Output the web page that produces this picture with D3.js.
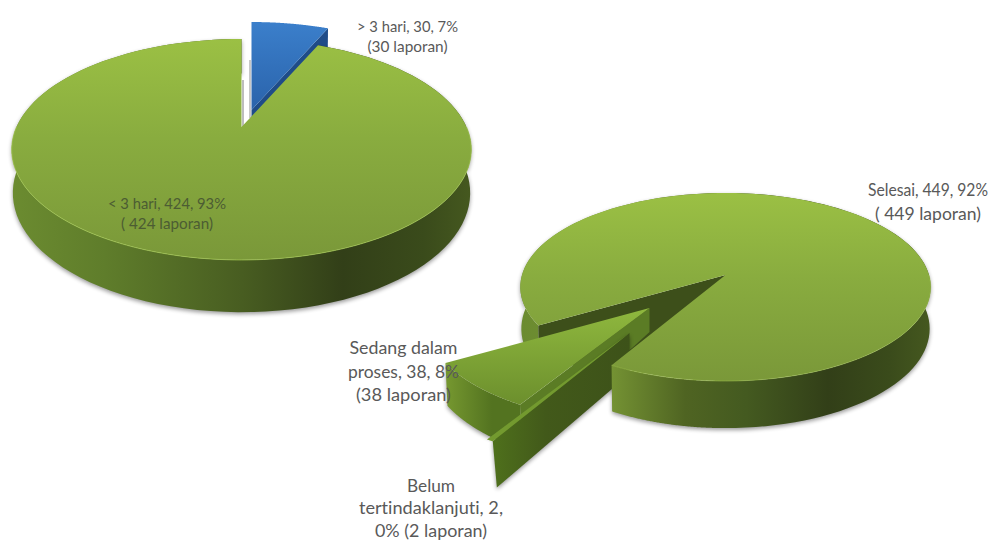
<!DOCTYPE html>
<html>
<head>
<meta charset="utf-8">
<style>
  html, body { margin: 0; padding: 0; background: #fff; }
  svg { display: block; }
  text { font-family: Lato, "Open Sans", sans-serif; fill: #595959; font-variant-ligatures: none; }
</style>
<script src="https://cdnjs.cloudflare.com/ajax/libs/d3/7.8.5/d3.min.js"></script>
</head>
<body>
<script>
// Response-time split
const timeCategories = ["> 3 hari", "< 3 hari"];
const timeValues = [30, 424];

// Follow-up status split
const statusCategories = ["Selesai", "Belum tertindaklanjuti", "Sedang dalam proses"];
const statusValues = [449, 2, 38];

// Label lines for both pies, each with the width it should occupy
const timeLabels = [
  { lines: ["> 3 hari, 30, 7%", "(30 laporan)"], widths: [101, 80], x: 407.5, y: 32, size: 15, dy: 19.5, fill: "#595959" },
  { lines: ["< 3 hari, 424, 93%", "( 424 laporan)"], widths: [118, 92], x: 167, y: 209, size: 15, dy: 20, fill: "#4c5c33" }
];
const statusLabels = [
  { lines: ["Selesai, 449, 92%", "( 449 laporan)"], widths: [120, 106], x: 928, y: 196, size: 17.5, dy: 24, fill: "#595959" },
  { lines: ["Sedang dalam", "proses, 38, 8%", "(38 laporan)"], widths: [108, 111, 95], x: 403.5, y: 354, size: 17.5, dy: 23.5, fill: "#595959" },
  { lines: ["Belum", "tertindaklanjuti, 2,", "0% (2 laporan)"], widths: [48, 144, 112], x: 431, y: 491.5, size: 17, dy: 22.5, fill: "#595959" }
];

const width = 1003, height = 540, TAU = Math.PI * 2;
const svg = d3.select("body").append("svg").attr("width", width).attr("height", height);
const defs = svg.append("defs");

// Perspective settings of the two discs: apex position, radii, tilt, thickness
const leftDisc = { cx: 241.5, cy: 127, R: 225, S: 105.9, k: 0.2036, D: 41.6, shrink: 0.005 };
const rightDisc = { cx: 725.5, cy: 275, R: 203.5, S: 92.5, k: 0.128, D: 41, shrink: 0.005 };

function vGradient(id, stops) {
  const g = defs.append("linearGradient").attr("id", id)
    .attr("x1", 0).attr("y1", 0).attr("x2", 0).attr("y2", 1);
  stops.forEach(([o, c]) => g.append("stop").attr("offset", o).attr("stop-color", c));
}
function hGradient(id, x1, x2, stops) {
  const g = defs.append("linearGradient").attr("id", id).attr("gradientUnits", "userSpaceOnUse")
    .attr("x1", x1).attr("y1", 0).attr("x2", x2).attr("y2", 0);
  stops.forEach(([o, c]) => g.append("stop").attr("offset", o).attr("stop-color", c));
}
hGradient("rimLeft", 14, 470, [[0, "#6b8b30"], [0.2, "#5f7d2b"], [0.5, "#485d21"], [0.72, "#323f18"], [0.9, "#3a4b1b"], [1, "#45581f"]]);
hGradient("rimRight", 522, 930, [[0, "#6b8b30"], [0.22, "#749233"], [0.4, "#4f6422"], [0.55, "#445a20"], [0.75, "#323f18"], [0.9, "#3a4b1b"], [1, "#45581f"]]);
vGradient("topLeft", [[0, "#9bc044"], [0.45, "#89ac3f"], [1, "#7a9839"]]);
vGradient("topRight", [[0, "#9bc044"], [0.45, "#89ac3f"], [1, "#7a9839"]]);
vGradient("topBlue", [[0, "#3b7fcb"], [1, "#2a63ab"]]);
vGradient("topSedang", [[0, "#8fb83e"], [1, "#6c8f2d"]]);
hGradient("rimSedang", 448, 492, [[0, "#74962f"], [1, "#537320"]]);
hGradient("cutBelum", 490, 630, [[0, "#4f711c"], [0.4, "#42591a"], [1, "#3d5219"]]);

const blur = defs.append("filter").attr("id", "soft")
  .attr("x", "-5%").attr("y", "-10%").attr("width", "110%").attr("height", "120%");
blur.append("feGaussianBlur").attr("stdDeviation", 2);

// Maps a polar point on the disc to the page, z = 0 on top, z = 1 at the underside
function project(disc, piece, r, theta, z) {
  const u = r * Math.sin(theta), v = r * Math.cos(theta), w = 1 + disc.k * v;
  const scale = piece.scale || 1, depth = piece.depth || disc.D;
  const shrink = 1 - z * (piece.shrink || disc.shrink);
  const drop = r === 0 && piece.apexDepth !== undefined ? piece.apexDepth : depth / w;
  return [
    disc.cx + (piece.dx || 0) + scale * disc.R * u / w * shrink,
    disc.cy + (piece.dy || 0) - scale * disc.S * v / w + z * drop
  ];
}
const sweep = (a0, a1) => d3.range(0, 121).map(i => a0 + (a1 - a0) * i / 120);
const line = d3.line();

function topPath(disc, piece, a0, a1) {
  return line([project(disc, piece, 0, a0, 0), ...sweep(a0, a1).map(a => project(disc, piece, 1, a, 0))]) + "Z";
}
function rimPath(disc, piece, a0, a1) {
  const s = sweep(a0, a1);
  return line([...s.map(a => project(disc, piece, 1, a, 0)),
               ...s.slice().reverse().map(a => project(disc, piece, 1, a, 1))]) + "Z";
}
function cutPath(disc, piece, a) {
  return line([project(disc, piece, 0, a, 0), project(disc, piece, 1, a, 0),
               project(disc, piece, 1, a, 1), project(disc, piece, 0, a, 1)]) + "Z";
}
function edgeLine(disc, a0, a1, colour, opacity) {
  svg.append("path")
    .attr("d", line(sweep(a0, a1).map(a => project(disc, plainPiece, 1, a, 0))))
    .attr("fill", "none").attr("stroke", colour).attr("stroke-width", 1).attr("opacity", opacity);
}
const draw = (d, fill) => svg.append("path").attr("d", d).attr("fill", fill);
const shade = d => svg.append("path").attr("d", d).attr("fill", "#000").attr("opacity", 0.4)
  .attr("transform", "translate(0,2)").attr("filter", "url(#soft)");

/* ---------- Response-time pie ---------- */
const timeArcs = d3.pie().sort(null).startAngle(0).endAngle(TAU)(timeValues);
const [blueArc, greenArc] = timeArcs;
const bluePiece = { dx: 10, dy: -17 };
const plainPiece = {};

// Exploded blue wedge sits behind the green disc
draw(cutPath(leftDisc, bluePiece, blueArc.endAngle), "#1f4c88");
draw(topPath(leftDisc, bluePiece, blueArc.startAngle, blueArc.endAngle), "url(#topBlue)");

// Thin shadows lining the slit between the wedge and the disc
const slitA = project(leftDisc, plainPiece, 0, 0, 0);
const slitB = project(leftDisc, bluePiece, 0, 0, 0);
svg.append("line").attr("x1", slitA[0] + 1.5).attr("x2", slitA[0] + 1.5)
  .attr("y1", slitA[1]).attr("y2", slitA[1] - 47).attr("stroke", "#bdbdbd").attr("stroke-width", 2);
svg.append("line").attr("x1", slitB[0] - 1.5).attr("x2", slitB[0] - 1.5)
  .attr("y1", slitB[1] + 8).attr("y2", slitB[1] - 50).attr("stroke", "#c8c8c8").attr("stroke-width", 2);

const greenRim = rimPath(leftDisc, plainPiece, greenArc.startAngle, greenArc.endAngle);
shade(greenRim);
draw(greenRim, "url(#rimLeft)");
draw(topPath(leftDisc, plainPiece, greenArc.startAngle, greenArc.endAngle), "url(#topLeft)");
edgeLine(leftDisc, TAU * 0.25, TAU * 0.75, "#a3c850", 0.7);

/* ---------- Follow-up status pie ---------- */
const statusStart = 239.3 / 360 * TAU;
const [doneArc, pendingArc, progressArc] =
  d3.pie().sort(null).startAngle(statusStart).endAngle(statusStart + TAU)(statusValues);
const progressPiece = { dx: -76, dy: 33, scale: 1.09, apexDepth: 24, depth: 40, shrink: 0.01 };
const pendingPiece = { dx: -96, dy: 58, scale: 1.2, depth: 41, shrink: 0.03 };
const hollowPiece = { apexDepth: 72 };
const splitAngle = TAU + TAU / 2;

shade(rimPath(rightDisc, plainPiece, doneArc.startAngle, doneArc.endAngle));
draw(rimPath(rightDisc, plainPiece, doneArc.startAngle, splitAngle), "url(#rimRight)");
// Dark inner face of the main slice, running down behind the two wedges
draw(cutPath(rightDisc, hollowPiece, doneArc.startAngle), "#3d4f1a");

// Exploded "in progress" wedge
const progressRim = rimPath(rightDisc, progressPiece, progressArc.startAngle, progressArc.endAngle);
shade(progressRim);
draw(progressRim, "url(#rimSedang)");
draw(cutPath(rightDisc, progressPiece, progressArc.startAngle), "#5b7c25");
draw(topPath(rightDisc, progressPiece, progressArc.startAngle, progressArc.endAngle), "url(#topSedang)");

// Exploded "not followed up" sliver
const pendingCut = cutPath(rightDisc, pendingPiece, pendingArc.startAngle);
shade(pendingCut);
draw(pendingCut, "url(#cutBelum)");
draw(topPath(rightDisc, pendingPiece, pendingArc.startAngle, pendingArc.endAngle), "#739a2f");

// Front part of the main slice overlaps both wedges
draw(rimPath(rightDisc, plainPiece, splitAngle - 0.01, doneArc.endAngle), "url(#rimRight)");
draw(topPath(rightDisc, plainPiece, doneArc.startAngle, doneArc.endAngle), "url(#topRight)");
edgeLine(rightDisc, TAU * 1.25, doneArc.endAngle, "#a3c850", 0.45);

/* ---------- Labels ---------- */
[...timeLabels, ...statusLabels].forEach(l => {
  const t = svg.append("text").attr("text-anchor", "middle")
    .attr("font-size", l.size).style("fill", l.fill);
  l.lines.forEach((s, i) => t.append("tspan").attr("x", l.x).attr("y", l.y + i * l.dy)
    .attr("textLength", l.widths[i]).attr("lengthAdjust", "spacingAndGlyphs").text(s));
});
</script>
</body>
</html>
